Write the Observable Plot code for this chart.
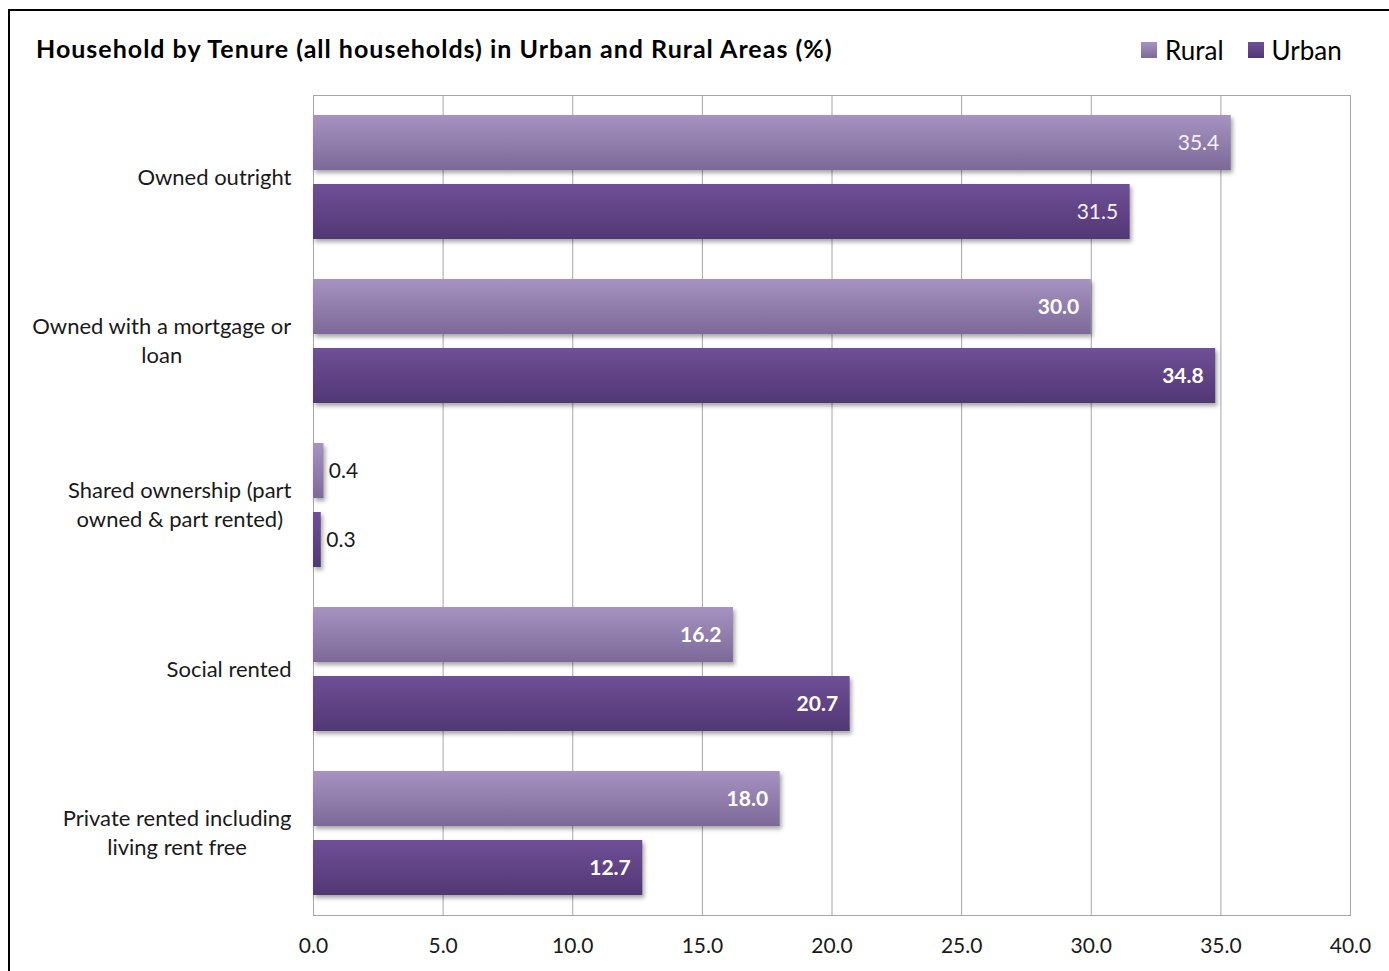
<!DOCTYPE html>
<html><head><meta charset="utf-8">
<script src="https://cdn.jsdelivr.net/npm/d3@7"></script>
<script src="https://cdn.jsdelivr.net/npm/@observablehq/plot@0.6"></script>
<style>
html,body{margin:0;padding:0;width:1389px;height:971px;overflow:hidden;background:#fff;font-family:Lato,"Noto Sans",sans-serif;}
#chart{position:absolute;left:0;top:0;}
#chart svg{background:transparent;}
#border{position:absolute;left:8px;top:9px;width:1420px;height:1020px;border:2px solid #000;box-sizing:border-box;pointer-events:none;}
#title{position:absolute;left:36px;top:32px;font-weight:bold;font-size:25px;letter-spacing:1px;color:#000;white-space:nowrap;line-height:32px;}
#legend{position:absolute;left:1141px;top:34px;display:flex;align-items:center;font-size:26px;color:#000;line-height:32px;}
#legend .item{display:flex;align-items:center;margin-right:24px;}
#legend .sw{width:16px;height:16px;margin-right:8px;}
#chart g[fill^="url"] rect{filter:drop-shadow(2px 3px 2px rgba(0,0,0,0.35));}
</style>
</head><body>
<div id="chart"></div>
<div id="title"></div>
<div id="legend"></div>
<div id="border"></div>
<script>
const titleText = "Household by Tenure (all households) in Urban and Rural Areas (%)";
const categories = ["Owned outright", "Owned with a mortgage or loan", "Shared ownership (part owned & part rented)", "Social rented", "Private rented including living rent free"];
const categoryLabels = ["Owned outright", "Owned with a mortgage or\nloan", "Shared ownership (part\nowned & part rented)", "Social rented", "Private rented including\nliving rent free"];
const seriesNames = ["Rural", "Urban"];
const rural = [35.4, 30.0, 0.4, 16.2, 18.0];
const urban = [31.5, 34.8, 0.3, 20.7, 12.7];
const xTicks = [0, 5, 10, 15, 20, 25, 30, 35, 40];

// styling
const colors = {Rural: ["#a793c1", "#7d6997"], Urban: ["#6f4f96", "#523775"]};
const plainLabelCategory = "Owned outright";
const W = 1389, H = 971;
const mL = 313, mR = 39, mT = 95, mB = 56;
const band = (H - mT - mB) / categories.length;
const barH = 55, gap = 14;
const outer = (band - 2 * barH - gap) / 2;
const catFont = 22;

const ruralData = categories.map((c, i) => ({cat: c, value: rural[i]}));
const urbanData = categories.map((c, i) => ({cat: c, value: urban[i]}));

const ctx = document.createElement("canvas").getContext("2d");
ctx.font = `${catFont}px Lato`;
const blockWidth = s => Math.max(...s.split("\n").map(l => ctx.measureText(l).width));

const labelMarks = categories.map((c, i) => Plot.text([c], {
  y: d => d, frameAnchor: "left", textAnchor: "middle", lineHeight: 1.32, dy: -2,
  dx: -(22 + blockWidth(categoryLabels[i]) / 2), text: () => categoryLabels[i],
  fontSize: catFont, fill: "#1a1a1a"
}));

function valueLabels(data, dy) {
  const fmt = d => d.value.toFixed(1);
  const inside = data.filter(d => d.value >= 2);
  const outside = data.filter(d => d.value < 2);
  return [
    Plot.text(inside.filter(d => d.cat === plainLabelCategory), {x: "value", y: "cat", dy, dx: -12, textAnchor: "end", text: fmt,
      fontSize: 21, fill: "#f4f1f8"}),
    Plot.text(inside.filter(d => d.cat !== plainLabelCategory), {x: "value", y: "cat", dy, dx: -12, textAnchor: "end", text: fmt,
      fontSize: 21, fill: "#fff", fontWeight: "bold"}),
    Plot.text(outside, {x: "value", y: "cat", dy, dx: 5, textAnchor: "start", text: fmt,
      fontSize: 21, fill: "#1a1a1a"})
  ];
}

const chart = Plot.plot({
  width: W, height: H,
  marginLeft: mL, marginRight: mR, marginTop: mT, marginBottom: mB,
  style: {fontFamily: "Lato, 'Noto Sans', sans-serif", fontSize: "20px", color: "#1a1a1a", background: "transparent"},
  x: {domain: [0, 40], ticks: xTicks, tickFormat: d3.format(".1f"), label: null},
  y: {domain: categories, padding: 0, axis: null, label: null},
  marks: [
    Plot.gridX(xTicks, {stroke: "#a6a6a6", strokeOpacity: 1}),
    Plot.frame({stroke: "#a6a6a6"}),
    Plot.barX(ruralData, {x: "value", y: "cat", fill: "url(#ruralGrad)", insetTop: outer, insetBottom: band - outer - barH}),
    Plot.barX(urbanData, {x: "value", y: "cat", fill: "url(#urbanGrad)", insetTop: outer + barH + gap, insetBottom: outer}),
    ...valueLabels(ruralData, -(gap + barH) / 2),
    ...valueLabels(urbanData, (gap + barH) / 2),
    ...labelMarks,
    Plot.axisX(xTicks, {tickSize: 0, tickPadding: 23, fontSize: 21, tickFormat: d3.format(".1f"), fill: "#1a1a1a", label: null})
  ]
});

const defs = d3.select(chart).insert("defs", ":first-child");
function grad(id, [top, bottom]) {
  const g = defs.append("linearGradient").attr("id", id).attr("x1", 0).attr("y1", 0).attr("x2", 0).attr("y2", 1);
  g.append("stop").attr("offset", "0%").attr("stop-color", top);
  g.append("stop").attr("offset", "100%").attr("stop-color", bottom);
}
grad("ruralGrad", colors.Rural);
grad("urbanGrad", colors.Urban);
document.getElementById("chart").appendChild(chart);

document.getElementById("title").textContent = titleText;
const legend = d3.select("#legend");
seriesNames.forEach(s => {
  const it = legend.append("div").attr("class", "item");
  it.append("div").attr("class", "sw").style("background", `linear-gradient(${colors[s][0]}, ${colors[s][1]})`);
  it.append("span").text(s);
});
</script>
</body></html>
